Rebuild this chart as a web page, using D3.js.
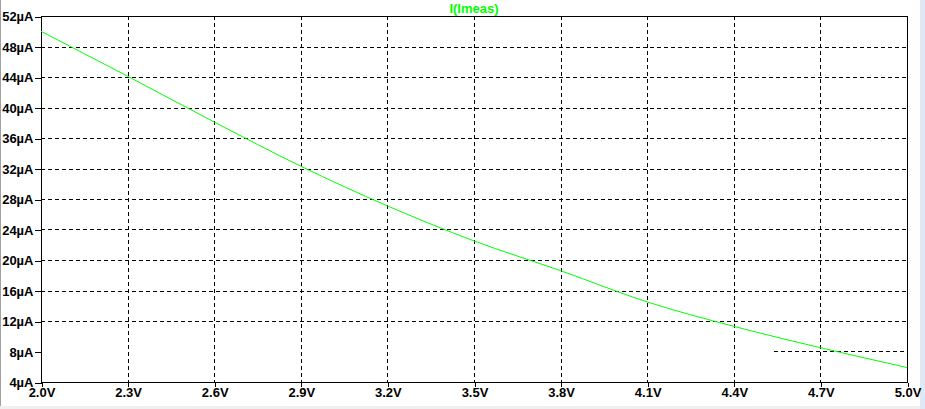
<!DOCTYPE html>
<html>

<head>
    <meta charset='utf-8'>
</head>
<style>
    body { margin: 0; background: #fff; }
    .grid line { stroke: #000; stroke-width: 1px; stroke-dasharray: 4, 3; shape-rendering: crispEdges; }
    .tick-label { font-family: "Liberation Sans", Arial, sans-serif; font-weight: bold; font-size: 13px; fill: #000; }
    .trace { fill: none; stroke: #00ff00; stroke-width: 1px; }
</style>

<body>
    <div id='chart'></div>
    <script src="https://d3js.org/d3.v7.min.js"></script>
    <script>
        // values
        var voltage = [2.0, 2.3, 2.6, 2.9, 3.2, 3.5, 3.8, 4.1, 4.4, 4.7, 5.0];
        var current = [50.0, 44.1, 38.1, 32.3, 27.1, 22.5, 18.6, 14.5, 11.3, 8.5, 5.9];
        var xTicks = [2.0, 2.3, 2.6, 2.9, 3.2, 3.5, 3.8, 4.1, 4.4, 4.7, 5.0];
        var yTicks = [4, 8, 12, 16, 20, 24, 28, 32, 36, 40, 44, 48, 52];
        var title = "I(Imeas)";

        var width = 925, height = 409;
        var plotL = 41, plotR = 907, plotT = 16, plotB = 382;

        var x = d3.scaleLinear().domain([2.0, 5.0]).range([plotL, plotR]);
        var y = d3.scaleLinear().domain([4, 52]).range([plotB, plotT]);

        var svg = d3.select('#chart').append('svg')
            .attr('width', width)
            .attr('height', height)
            .style('display', 'block');

        // window chrome
        svg.append('rect').attr('x', 0).attr('y', 0).attr('width', 1).attr('height', 406).attr('fill', '#a0a0a0');
        svg.append('rect').attr('x', 0).attr('y', 406).attr('width', 920).attr('height', 3).attr('fill', '#f0f0f0');
        svg.append('rect').attr('x', 920).attr('y', 0).attr('width', 5).attr('height', 409).attr('fill', '#dfe8f5');

        // gridlines
        var grid = svg.append('g').attr('class', 'grid');
        grid.selectAll('.vg').data(xTicks.slice(1, -1)).enter().append('line')
            .attr('x1', function(d) { return Math.round(x(d)) + 0.5; })
            .attr('x2', function(d) { return Math.round(x(d)) + 0.5; })
            .attr('y1', plotT).attr('y2', plotB);
        grid.selectAll('.hg').data(yTicks.slice(1, -1)).enter().append('line')
            .attr('x1', function(d) { return d === 8 ? x(4.54) : plotL; })
            .attr('x2', plotR)
            .attr('y1', function(d) { return Math.round(y(d)) + 0.5; })
            .attr('y2', function(d) { return Math.round(y(d)) + 0.5; });

        // frame
        svg.append('rect')
            .attr('x', plotL + 0.5).attr('y', plotT + 0.5)
            .attr('width', plotR - plotL).attr('height', plotB - plotT)
            .attr('fill', 'none').attr('stroke', '#000').attr('shape-rendering', 'crispEdges');

        // axes
        var xAxis = d3.axisBottom(x).tickValues(xTicks).tickSize(4).tickPadding(1)
            .tickFormat(function(d) { return d3.format('.1f')(d) + 'V'; });
        var yAxis = d3.axisLeft(y).tickValues(yTicks).tickSize(7).tickPadding(1)
            .tickFormat(function(d) { return d + 'µA'; });

        var gx = svg.append('g').attr('transform', 'translate(0.5,' + (plotB + 0.5) + ')').call(xAxis);
        var gy = svg.append('g').attr('transform', 'translate(' + (plotL + 0.5) + ',0.5)').call(yAxis);
        [gx, gy].forEach(function(g) {
            g.select('.domain').remove();
            g.selectAll('line').attr('stroke', '#000').attr('shape-rendering', 'crispEdges');
            g.selectAll('text').attr('class', 'tick-label').attr('fill', '#000');
        });

        // trace
        var line = d3.line()
            .x(function(d, i) { return x(voltage[i]); })
            .y(function(d) { return y(d); })
            .curve(d3.curveMonotoneX);
        svg.append('path').datum(current).attr('class', 'trace').attr('d', line);

        svg.append('text')
            .attr('x', (plotL + plotR) / 2).attr('y', 13)
            .attr('text-anchor', 'middle')
            .attr('fill', '#00ff00')
            .style('font-family', '"Liberation Sans", Arial, sans-serif')
            .style('font-weight', 'bold').style('font-size', '13px')
            .text(title);
    </script>
</body>

</html>
